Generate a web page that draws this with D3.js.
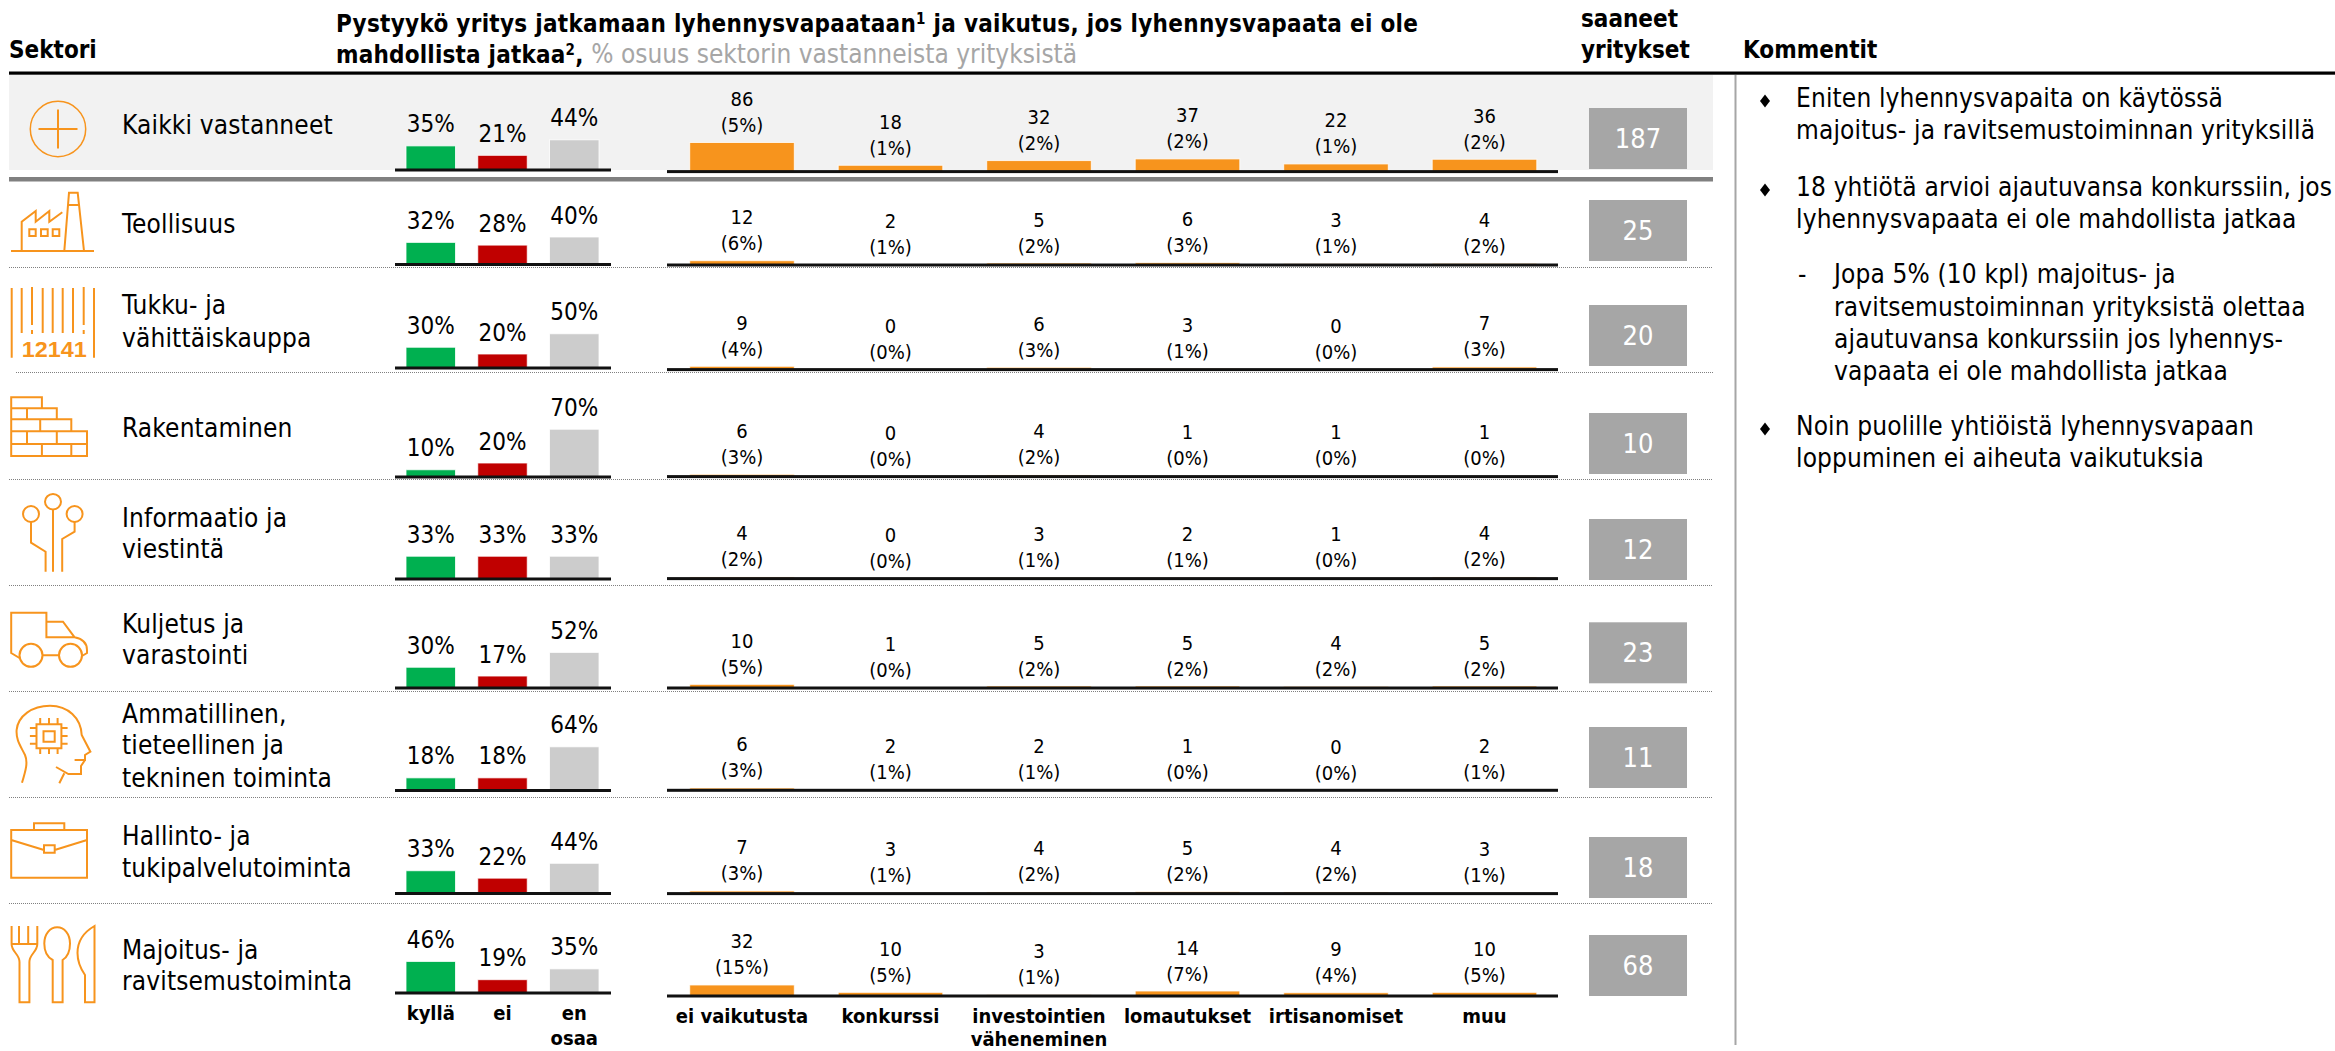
<!DOCTYPE html>
<html lang="fi">
<head>
<meta charset="utf-8">
<script src="https://cdn.jsdelivr.net/npm/d3@7"></script>
<style>
html,body{margin:0;padding:0;background:#fff;overflow:hidden}
svg{display:block}
text{font-family:"DejaVu Sans Condensed","DejaVu Sans",sans-serif;font-stretch:condensed;fill:#000}
.ic{fill:none;stroke:#F7941D;stroke-width:2;stroke-linejoin:miter}
</style>
</head>
<body>
<svg id="chart" width="2335" height="1051"></svg>
<script>
// ---------- data ----------
const sectors = ["Kaikki vastanneet","Teollisuus","Tukku- ja vähittäiskauppa","Rakentaminen","Informaatio ja viestintä","Kuljetus ja varastointi","Ammatillinen, tieteellinen ja tekninen toiminta","Hallinto- ja tukipalvelutoiminta","Majoitus- ja ravitsemustoiminta"];
const sectorLines = [["Kaikki vastanneet"],["Teollisuus"],["Tukku- ja","vähittäiskauppa"],["Rakentaminen"],["Informaatio ja","viestintä"],["Kuljetus ja","varastointi"],["Ammatillinen,","tieteellinen ja","tekninen toiminta"],["Hallinto- ja","tukipalvelutoiminta"],["Majoitus- ja","ravitsemustoiminta"]];
const answers = ["kyllä","ei","en osaa"];
const kylla = [35,32,30,10,33,30,18,33,46];
const ei    = [21,28,20,20,33,17,18,22,19];
const enOsaa= [44,40,50,70,33,52,64,44,35];
const impacts = ["ei vaikutusta","konkurssi","investointien väheneminen","lomautukset","irtisanomiset","muu"];
const impactCounts = [
 [86,18,32,37,22,36],[12,2,5,6,3,4],[9,0,6,3,0,7],[6,0,4,1,1,1],[4,0,3,2,1,4],
 [10,1,5,5,4,5],[6,2,2,1,0,2],[7,3,4,5,4,3],[32,10,3,14,9,10]];
const impactPct = [
 [5,1,2,2,1,2],[6,1,2,3,1,2],[4,0,3,1,0,3],[3,0,2,0,0,0],[2,0,1,1,0,2],
 [5,0,2,2,2,2],[3,1,1,0,0,1],[3,1,2,2,2,1],[15,5,1,7,4,5]];
const totals = [187,25,20,10,12,23,11,18,68];
const comments = [
 {k:"b",t:"Eniten lyhennysvapaita on käytössä",y:107},
 {k:"c",t:"majoitus- ja ravitsemustoiminnan yrityksillä",y:139},
 {k:"b",t:"18 yhtiötä arvioi ajautuvansa konkurssiin, jos",y:196},
 {k:"c",t:"lyhennysvapaata ei ole mahdollista jatkaa",y:228},
 {k:"d",t:"Jopa 5% (10 kpl) majoitus- ja",y:283},
 {k:"s",t:"ravitsemustoiminnan yrityksistä olettaa",y:316},
 {k:"s",t:"ajautuvansa konkurssiin jos lyhennys-",y:348},
 {k:"s",t:"vapaata ei ole mahdollista jatkaa",y:380},
 {k:"b",t:"Noin puolille yhtiöistä lyhennysvapaan",y:435},
 {k:"c",t:"loppuminen ei aiheuta vaikutuksia",y:467}];

// ---------- layout ----------
const leftBase  = [169.5,264,367.5,476.5,578.5,687.5,790,893,992.5];
const rightBase = [171.3,264.7,369.3,476.3,578.3,687.7,790,893.3,995.7];
const dotted    = [267.5,372.5,479.5,585.5,691.5,797.5,903.5];
const boxTop    = [108,200,305,413,519,622.3,727,837,935];
const labelY    = [[134],[232.5],[314,347],[437],[526.5,558],[632.5,664],[722.5,754,786.5],[845,876.5],[958.5,990]];
const svg = d3.select("#chart");
const ORANGE="#F7941D";

const xL = d3.scaleBand().domain(answers).range([406,599]).paddingInner(0.31);
const xR = d3.scaleBand().domain(impacts).range([689.7,1536.8]).paddingInner(0.2956);
const hL = d3.scaleLinear().domain([0,100]).range([0,67.5]);
const hR = d3.scaleLinear().domain([0,100]).range([0,33.5]);

// background band and rules
svg.append("rect").attr("x",9).attr("y",75).attr("width",1704).attr("height",95).attr("fill","#F2F2F2");
svg.append("rect").attr("x",9).attr("y",177).attr("width",1704).attr("height",4.5).attr("fill","#808080");
svg.append("rect").attr("x",9).attr("y",71.5).attr("width",2326).attr("height",3.2).attr("fill","#000");
svg.selectAll(".dot").data(dotted).join("line").attr("class","dot")
  .attr("x1",(d,i)=>i===1?16:9).attr("x2",1713).attr("y1",d=>d).attr("y2",d=>d)
  .attr("stroke","#808080").attr("stroke-width",1).attr("stroke-dasharray","1 1");
svg.append("line").attr("x1",1735.5).attr("x2",1735.5).attr("y1",75).attr("y2",1045).attr("stroke","#A6A6A6").attr("stroke-width",2);

// headers
const hd=(x,y,t)=>svg.append("text").attr("x",x).attr("y",y).attr("font-size",24).attr("font-weight",700).text(t);
hd(9,58,"Sektori");
hd(1743,58,"Kommentit");
hd(1581,27,"saaneet");
hd(1581,58,"yritykset");
const h1=hd(336,32,"Pystyykö yritys jatkamaan lyhennysvapaataan").style("letter-spacing","0.29px");
h1.append("tspan").attr("dy",-8).attr("font-size",15).text("1");
h1.append("tspan").attr("dy",8).text(" ja vaikutus, jos lyhennysvapaata ei ole");
const h2=hd(336,63,"mahdollista jatkaa").style("letter-spacing","0.2px");
h2.append("tspan").attr("dy",-8).attr("font-size",15).text("2");
h2.append("tspan").attr("dy",8).text(", ");
h2.append("tspan").attr("font-weight",400).attr("font-size",26).style("fill","#A6A6A6").style("letter-spacing","0").text("% osuus sektorin vastanneista yrityksistä");

// rows
sectors.forEach((s,i)=>{
  const g=svg.append("g").attr("class","row");
  sectorLines[i].forEach((l,j)=>g.append("text").attr("x",122).attr("y",labelY[i][j]).attr("font-size",26).style("letter-spacing","0.15px").text(l));

  const vals=[kylla[i],ei[i],enOsaa[i]], cols=["#00B050","#C00000","#CCCCCC"];
  answers.forEach((a,k)=>{
    const h=hL(vals[k]), top=leftBase[i]-h;
    g.append("rect").attr("x",xL(a)).attr("y",top).attr("width",xL.bandwidth()).attr("height",h)
      .attr("fill",cols[k]).attr("stroke","#fff").attr("stroke-opacity",.8).attr("stroke-width",1);
    g.append("text").attr("x",xL(a)+xL.bandwidth()/2).attr("y",top-13.5).attr("text-anchor","middle")
      .attr("font-size",24).text(vals[k]+"%");
  });
  g.append("rect").attr("x",395).attr("y",leftBase[i]-1).attr("width",216).attr("height",3).attr("fill","#111");

  impacts.forEach((a,k)=>{
    const v=impactCounts[i][k], h=hR(v), top=rightBase[i]-h, cx=xR(a)+xR.bandwidth()/2;
    if(v>0) g.append("rect").attr("x",xR(a)).attr("y",top).attr("width",xR.bandwidth()).attr("height",h)
      .attr("fill",ORANGE).attr("stroke","#fff").attr("stroke-opacity",.8).attr("stroke-width",1);
    g.append("text").attr("x",cx).attr("y",top-10.5).attr("text-anchor","middle").attr("font-size",20).text("("+impactPct[i][k]+"%)");
    g.append("text").attr("x",cx).attr("y",top-36.5).attr("text-anchor","middle").attr("font-size",20).text(v);
  });
  g.append("rect").attr("x",667).attr("y",rightBase[i]-1.2).attr("width",891).attr("height",3).attr("fill","#111");

  g.append("rect").attr("x",1589).attr("y",boxTop[i]).attr("width",98).attr("height",61).attr("fill","#A6A6A6");
  g.append("text").attr("x",1638).attr("y",boxTop[i]+40).attr("text-anchor","middle").attr("font-size",27).style("fill","#fff").text(totals[i]);
});

// category labels
const lab=(x,y,t,fs)=>svg.append("text").attr("x",x).attr("y",y).attr("text-anchor","middle").attr("font-size",fs).attr("font-weight",700).text(t);
[["kyllä"],["ei"],["en","osaa"]].forEach((ls,k)=>ls.forEach((l,j)=>lab(xL(answers[k])+xL.bandwidth()/2,1020+j*25,l,20)));
[["ei vaikutusta"],["konkurssi"],["investointien","väheneminen"],["lomautukset"],["irtisanomiset"],["muu"]].forEach((ls,k)=>
  ls.forEach((l,j)=>lab(xR(impacts[k])+xR.bandwidth()/2,1023+j*23,l,20)));

// comments
comments.forEach(c=>{
  const x=(c.k==="d"||c.k==="s")?1834:1796;
  svg.append("text").attr("x",x).attr("y",c.y).attr("font-size",26).style("letter-spacing","0.15px").text(c.t);
  if(c.k==="b") svg.append("path").attr("d","M0,-6.5L5,0L0,6.5L-5,0Z").attr("transform",`translate(1765,${c.y-6})`).attr("fill","#000");
  if(c.k==="d") svg.append("text").attr("x",1798).attr("y",c.y).attr("font-size",26).text("-");
});

// icons
const ic=svg.append("g").attr("class","ic");
const p=d=>ic.append("path").attr("d",d);
// plus
ic.append("ellipse").attr("cx",58).attr("cy",129).attr("rx",27.7).attr("ry",27.7).attr("stroke-width",1.5);
p("M38.5,129H77.5M58,109.5V148.5");
// factory
p("M11,251H94M64.3,251L69,192.7H77.7L84,251M68,205H79M21.7,251V221.7L35.7,211V221.7L49.3,211V221.7L62.3,212.3");
p("M29.3,229.3H35.7V236H29.3ZM41,229.3H47.7V236H41ZM52.7,229.3H59.3V236H52.7Z");
// barcode
p("M11.7,288V357.7M94,288V357.7M21.7,288V333M42.7,288V333M52.7,288V333M62.7,288V333M73,288V333M32,287V325M32,330V334M83.7,287V325M83.7,330V334");
ic.append("text").attr("x",21.7).attr("y",357).attr("textLength",65).attr("lengthAdjust","spacingAndGlyphs")
  .attr("font-size",22).attr("font-weight",700).style("font-family","'Liberation Sans'").style("fill",ORANGE).style("stroke","none").text("12141");
// bricks
p("M11.2,397.3H41.9V408.3H56.8V419.3H71.3V431.3H87V456H11.2ZM11.2,408.3H41.9M11.2,419.3H56.8M11.2,431.3H71.3M11.2,444H87M27,408.3V419.3M40.2,419.3V431.3M27,431.3V444M56.8,431.3V444M41.9,444V456M71.3,444V456");
// circuit
ic.append("ellipse").attr("cx",53).attr("cy",501.7).attr("rx",8).attr("ry",7.7);
ic.append("ellipse").attr("cx",31).attr("cy",514).attr("rx",8).attr("ry",8);
ic.append("ellipse").attr("cx",74.6).attr("cy",514).attr("rx",8).attr("ry",8);
p("M53,509.5V571.7M31,522V542.7L45.6,551.7V571.7M74.6,522V531.7L62.2,539V571.7");
// truck
p("M19.5,658L11.2,653V612.7H46.4V621.7H63L74.6,637.3H46.4V621.7M74.6,637.3C83,639 87,643 87,650V653L82,656M42.5,655.3H59");
ic.append("circle").attr("cx",31).attr("cy",655.3).attr("r",11.5);
ic.append("circle").attr("cx",70.5).attr("cy",655.3).attr("r",11.5);
// head
p("M22,782.7C26,770 28,762 25,755C20,745 16,740 16.6,730C18,716 32,705.7 50,705.7C68,705.7 81,718 81.7,735L90.4,751.7L85,755V760H74.6M85,760L81,766V774H68.4L56,767M64.3,773.3L59.3,783.3");
p("M36.5,724.3H61.4V748.3H36.5ZM43.5,731.3H54.7V741.7H43.5Z");
p("M40.2,718V724M49,718V724M57.6,718V724M40.2,748V754M49,748V754M57.6,748V754M29.9,728H36.5M29.9,736H36.5M29.9,743.7H36.5M61.4,728H67.6M61.4,736H67.6M61.4,743.7H67.6");
// briefcase
p("M11.2,830H87V877.7H11.2ZM34,830V823.3H64.3V830M11.2,840L44,850M54.7,850L87,840M44,845.3H54.7V852.7H44Z");
// cutlery
p("M11.6,926V944C11.6,952 19.5,954 19.5,962V1002.3H29.4V962C29.4,954 37.3,952 37.3,944V926M19,926V944M28.2,926V944M11.6,944H37.3");
p("M52.7,1002.3V960C47,957 44.3,951 44.3,943.5C44.3,934 50,927.3 57.2,927.3C64.4,927.3 70,934 70,943.5C70,951 67.4,957 62.6,960V1002.3Z");
p("M94.5,926V1002.3H85V975C78,965 77.5,958 77.5,953C77.5,941 84,932 94.5,926Z");
</script>
</body>
</html>
